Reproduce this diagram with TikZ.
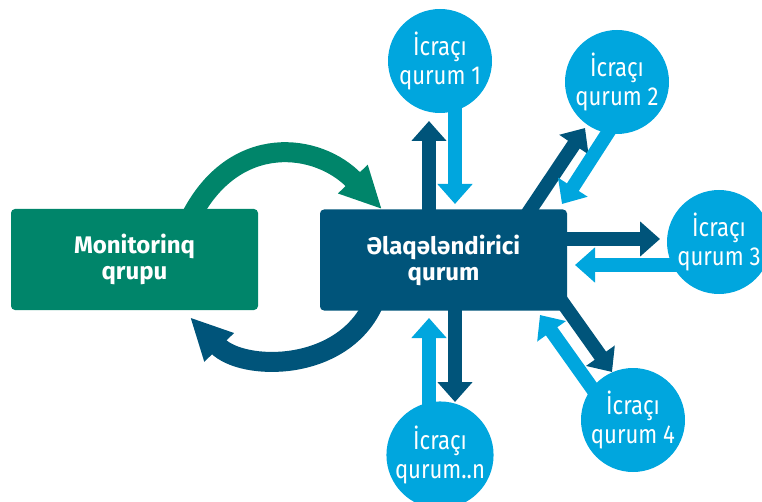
\documentclass[tikz,border=0pt]{standalone}
\usepackage{fontspec}
\setmainfont{Fira Sans}
\newfontfamily\icrafont[FakeStretch=0.85]{Fira Sans}
\newfontfamily\qutufont{Fira Sans}
\usetikzlibrary{arrows.meta,backgrounds}
\definecolor{grupyasil}{RGB}{0,133,106}
\definecolor{qurumgoy}{RGB}{0,84,122}
\definecolor{icramavi}{RGB}{0,166,222}
\begin{document}
\begin{tikzpicture}[x=1pt,y=-1pt,
  qutu/.style={rectangle,rounded corners=4pt,minimum width=247pt,minimum height=101pt,
    text=white,align=center,font=\qutufont\bfseries\fontsize{24}{26}\selectfont},
  icra/.style={circle,fill=icramavi,minimum size=104pt,inner sep=0pt,
    text=white,align=center,font=\icrafont\fontsize{26}{29}\selectfont},
  cix/.style={line width=14pt,draw=qurumgoy,-{Triangle[length=20pt,width=34pt]}},
  gir/.style={line width=14pt,draw=icramavi,-{Triangle[length=20pt,width=34pt]}},
  dovr/.style={line width=20pt,-{Triangle[length=42pt,width=38pt]}}]
\useasboundingbox (0,0) rectangle (762,502);
\clip (0,0) rectangle (762,502);
\node[qutu,fill=grupyasil] (mon) at (134.5,259.5) {Monitorinq\\qrupu};
\node[qutu,fill=qurumgoy] (elaq) at (443.5,260) {Əlaqələndirici\\qurum};
\node[icra] (c1) at (440,61) {İcraçı\\qurum 1};
\node[icra] (c2) at (617,82) {İcraçı\\qurum 2};
\node[icra] (c3) at (719,242) {İcraçı\\qurum 3};
\node[icra] (c4) at (633,420) {İcraçı\\qurum 4};
\node[icra] (cn) at (440,455) {İcraçı\\qurum..n};
\coordinate (t1) at (429,121);
\coordinate (t2) at (585,128);
\coordinate (t3) at (660,239);
\coordinate (t4) at (612,372);
\coordinate (tn) at (455,402);
\coordinate (i1) at (455,204);
\coordinate (i2) at (562,204);
\coordinate (i3) at (575,265);
\coordinate (i4) at (540,315);
\coordinate (in) at (429,318);
\begin{pgfonlayer}{background}
\draw[cix] (elaq -| t1) -- (t1);
\draw[cix] ([shift={(76.5,-35)}]elaq.center) -- (t2);
\draw[cix] (elaq |- t3) -- (t3);
\draw[cix] ([shift={(104.5,22)}]elaq.center) -- (t4);
\draw[cix] (elaq -| tn) -- (tn);
\draw[gir] (c1 -| i1) -- (i1);
\draw[gir] ([shift={(12,18)}]c2.center) -- (i2);
\draw[gir] (c3 |- i3) -- (i3);
\draw[gir] ([shift={(-29,-15)}]c4.center) -- (i4);
\draw[gir] (cn -| in) -- (in);
\draw[dovr,draw=grupyasil] ([xshift=57.5pt,yshift=-6pt]mon.north) to[out=62,in=134,looseness=1.25] ([xshift=-61.5pt]elaq.north);
\draw[dovr,draw=qurumgoy] ([xshift=-70.5pt,yshift=6pt]elaq.south) to[out=-115,in=-46,looseness=1.05] ([xshift=55.5pt,yshift=-7pt]mon.south);
\end{pgfonlayer}
\end{tikzpicture}
\end{document}
